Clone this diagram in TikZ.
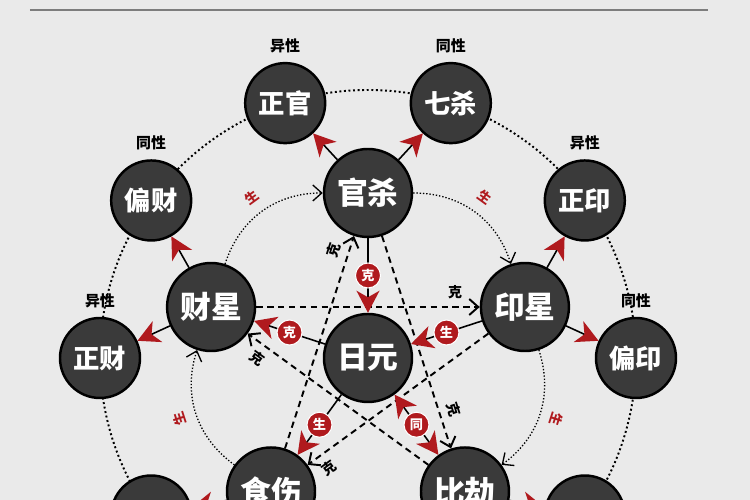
\documentclass[tikz,border=0pt]{standalone}
\usepackage{fontspec}
\setmainfont{Noto Sans CJK SC}
\usepackage{tikz}
\usetikzlibrary{arrows.meta}
\usetikzlibrary{positioning}
\definecolor{paper}{RGB}{234,234,234}
\definecolor{ballgray}{RGB}{58,58,58}
\definecolor{arrowred}{RGB}{176,26,30}
\definecolor{rulegray}{RGB}{125,125,125}

\begin{document}
\begin{tikzpicture}[font=\bfseries]
\tikzset{
  xingball/.style={circle, fill=ballgray, draw=black, line width=1.4pt, minimum size=1.76cm, inner sep=0pt, text=white, font=\fontsize{17.5pt}{17.5pt}\selectfont\bfseries},
  shenball/.style={circle, fill=ballgray, draw=black, line width=1.4pt, minimum size=1.6cm, inner sep=0pt, text=white, font=\fontsize{15pt}{15pt}\selectfont\bfseries},
  sextext/.style={font=\fontsize{8.5pt}{8.5pt}\selectfont\bfseries, inner sep=1pt},
  badge/.style={circle, fill=arrowred, draw=white, line width=0.6pt, minimum size=0.5cm, inner sep=0pt, text=white, font=\fontsize{7.5pt}{7.5pt}\selectfont\bfseries},
  redtip/.tip={Stealth[length=4.4mm, width=4.6mm, inset=1.3mm, color=arrowred]},
  opentip/.tip={Straight Barb[length=1.8mm, width=3.2mm]},
  godline/.style={line width=0.9pt, -{redtip}},
  badgeline/.style={line width=0.9pt, -{redtip}},
  shengarc/.style={black, line width=0.75pt, dash pattern=on 0.75pt off 1.1pt, -{opentip}},
  kedash/.style={line width=1.1pt, dash pattern=on 3.6pt off 2.6pt, -{opentip}},
  shengtext/.style={text=arrowred, font=\fontsize{7.5pt}{7.5pt}\selectfont\bfseries, sloped, allow upside down, above=5pt, inner sep=1pt},
  ketext/.style={font=\fontsize{8pt}{8pt}\selectfont\bfseries, sloped, inner sep=2pt}
}
\useasboundingbox (-7.36,-2.84) rectangle (7.64,7.16);
\fill[paper] (-7.36,-2.84) rectangle (7.64,7.16);
\clip (-7.36,-2.84) rectangle (7.64,7.16);
\draw[rulegray, line width=1.2pt] (-6.76,6.96) -- (6.8,6.96);
\draw[line width=1.1pt, dash pattern=on 1.1pt off 1.5pt] (0,0) circle (5.36);

\node[xingball] (riyuan) at (0,0) {日元};
\node[xingball] (guansha) at (90:3.3) {官杀};
\node[xingball] (yinxing) at (18:3.3) {印星};
\node[xingball] (bijie) at (-54:3.3) {比劫};
\node[xingball] (shishang) at (-126:3.3) {食伤};
\node[xingball] (caixing) at (162:3.3) {财星};

\node[shenball] (zhengguan) at (108:5.36) {正官};
\node[shenball] (qisha) at (72:5.36) {七杀};
\node[shenball] (zhengyin) at (36:5.36) {正印};
\node[shenball] (pianyin) at (0:5.36) {偏印};
\node[shenball] (bijieout) at (-36:5.36) {};
\node[shenball] (shishangout) at (-144:5.36) {};
\node[shenball] (zhengcai) at (180:5.36) {正财};
\node[shenball] (piancai) at (144:5.36) {偏财};

\node[sextext] (zhengguansex) [above=0.14cm of zhengguan] {异性};
\node[sextext] (qishasex) [above=0.14cm of qisha] {同性};
\node[sextext] (zhengyinsex) [above=0.14cm of zhengyin] {异性};
\node[sextext] (pianyinsex) [above=0.14cm of pianyin] {同性};
\node[sextext] (zhengcaisex) [above=0.14cm of zhengcai] {异性};
\node[sextext] (piancaisex) [above=0.14cm of piancai] {同性};

\draw[godline] (guansha) -- (zhengguan);
\draw[godline] (guansha) -- (qisha);
\draw[godline] (yinxing) -- (zhengyin);
\draw[godline] (yinxing) -- (pianyin);
\draw[godline] (caixing) -- (piancai);
\draw[godline] (caixing) -- (zhengcai);
\draw[godline] (bijie) -- (bijieout);
\draw[godline] (shishang) -- (shishangout);

\draw[shengarc] (caixing) to[bend left=36] node[shengtext] (shengtl) {生} (guansha);
\draw[shengarc] (guansha) to[bend left=36] node[shengtext] (shengtr) {生} (yinxing);
\draw[shengarc] (yinxing) to[bend left=36] node[shengtext] (shengbr) {生} (bijie);
\draw[shengarc] (shishang) to[bend left=36] node[shengtext] (shengbl) {生} (caixing);

\draw[kedash] (caixing) -- node[ketext, pos=0.89, above=2pt] (kecy) {克} (yinxing);
\draw[kedash] (yinxing) -- node[ketext, pos=0.93, below=2pt] (keys) {克} (shishang);
\draw[kedash] (shishang) -- node[ketext, pos=0.91, above=2pt] (kesg) {克} (guansha);
\draw[kedash] (guansha) -- node[ketext, pos=0.84, above=2pt] (kegb) {克} (bijie);
\draw[kedash] (bijie) -- node[ketext, pos=0.90, below=2pt] (kebc) {克} (caixing);

\draw[badgeline] (guansha) -- node[badge] (keri) {克} (riyuan);
\draw[badgeline] (yinxing) -- node[badge] (shengri) {生} (riyuan);
\draw[badgeline] (riyuan) -- node[badge] (kecai) {克} (caixing);
\draw[badgeline] (riyuan) -- node[badge] (shengshi) {生} (shishang);
\draw[badgeline, {redtip}-{redtip}] (riyuan) -- node[badge] (tongbi) {同} (bijie);
\end{tikzpicture}
\end{document}
